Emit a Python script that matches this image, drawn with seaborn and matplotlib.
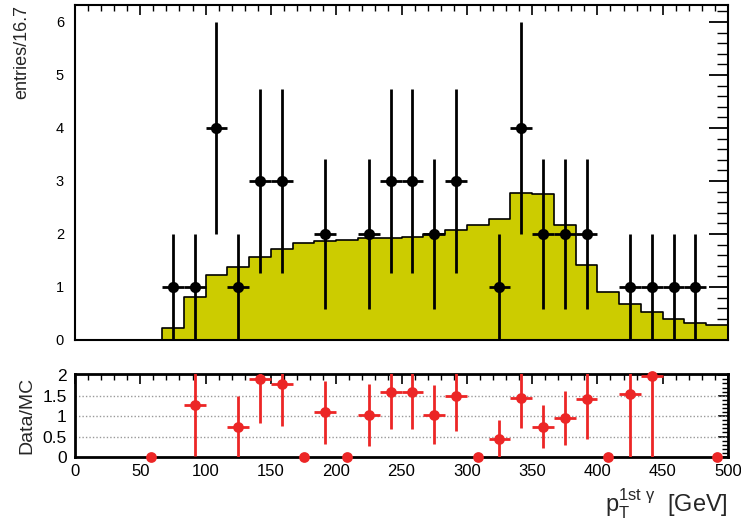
import numpy as np
import pandas as pd
import matplotlib
matplotlib.use("Agg")
import matplotlib.pyplot as plt
import seaborn as sns
from matplotlib.ticker import MultipleLocator

# ---------------- data ----------------
bin_width = 500 / 30
bin_edges = [i * bin_width for i in range(31)]
bin_centers = [(i + 0.5) * bin_width for i in range(30)]

mc_values = [0, 0, 0, 0, 0.22, 0.82, 1.23, 1.37, 1.57, 1.72,
             1.83, 1.86, 1.89, 1.92, 1.92, 1.95, 2.00, 2.07, 2.16, 2.29,
             2.78, 2.75, 2.16, 1.42, 0.91, 0.67, 0.52, 0.40, 0.32, 0.29]

data_counts = [0, 0, 0, 0, 1, 1, 4, 1, 3, 3,
               0, 2, 0, 2, 3, 3, 2, 3, 0, 1,
               4, 2, 2, 2, 0, 1, 1, 1, 1, 0]
data_err = [0, 0, 0, 0, 1, 1, 2, 1, 1.73, 1.73,
            0, 1.41, 0, 1.41, 1.73, 1.73, 1.41, 1.73, 0, 1,
            2, 1.41, 1.41, 1.41, 0, 1, 1, 1, 1, 0]

ratio_x = [58.33, 91.67, 125.0, 141.67, 158.33, 175.0, 191.67, 208.33, 225.0, 241.67,
           258.33, 275.0, 291.67, 308.33, 325.0, 341.67, 358.33, 375.0, 391.67, 408.33,
           425.0, 441.67, 491.67]
ratio_y = [0, 1.28, 0.74, 1.92, 1.79, 0, 1.09, 0, 1.03, 1.58,
           1.58, 1.03, 1.49, 0, 0.45, 1.44, 0.74, 0.95, 1.43, 0,
           1.55, 1.98, 0]
ratio_err = [0, 1.25, 0.74, 1.10, 1.02, 0, 0.77, 0, 0.75, 0.90,
             0.90, 0.72, 0.85, 0, 0.45, 0.73, 0.52, 0.66, 1.00, 0,
             1.54, 2.00, 0]

x_ticks = [0, 50, 100, 150, 200, 250, 300, 350, 400, 450, 500]

# ---------------- style ----------------
sns.set_theme(style="white")
plt.rcParams['font.family'] = ['Liberation Sans', 'DejaVu Sans']
plt.rcParams['mathtext.fontset'] = 'custom'
plt.rcParams['mathtext.rm'] = 'Liberation Sans'
plt.rcParams['mathtext.it'] = 'Liberation Sans'

fig = plt.figure(figsize=(7.41, 5.25), dpi=100)
ax1 = fig.add_axes([0.1012, 0.3524, 0.8813, 0.6381])
ax2 = fig.add_axes([0.1012, 0.1295, 0.8813, 0.1581])

mc_df = pd.DataFrame({"x": bin_centers, "w": mc_values})
sns.histplot(data=mc_df, x="x", weights="w", bins=bin_edges, element="step",
             fill=True, color="#cccc00", alpha=1.0, edgecolor="black",
             linewidth=1.2, ax=ax1)

# data points with errors
dd = pd.DataFrame({"x": bin_centers, "y": data_counts, "e": data_err})
dd = dd[dd["y"] > 0]
ax1.errorbar(dd["x"], dd["y"], yerr=dd["e"], xerr=bin_width / 2, fmt="none",
             ecolor="black", elinewidth=2.0, capsize=0, zorder=3)
sns.scatterplot(data=dd, x="x", y="y", color="black", s=65, edgecolor="black",
                linewidth=0, ax=ax1, zorder=4)

ax1.set_xlim(0, 500)
ax1.set_ylim(0, 6.32)
ax1.set_xlabel("")
ax1.set_ylabel("")
ax1.xaxis.set_major_locator(MultipleLocator(50))
ax1.xaxis.set_minor_locator(MultipleLocator(10))
ax1.yaxis.set_major_locator(MultipleLocator(1))
ax1.yaxis.set_minor_locator(MultipleLocator(0.2))
ax1.tick_params(axis="both", which="both", direction="in", top=True, right=True,
                colors="black")
ax1.tick_params(axis="y", which="major", length=14, width=1.3, labelsize=10.5, pad=8)
ax1.tick_params(axis="y", which="minor", length=8, width=1.0)
ax1.tick_params(axis="x", which="major", length=7, width=1.2)
ax1.tick_params(axis="x", which="minor", length=4, width=1.0)
ax1.tick_params(axis="x", labelbottom=False)
fig.text(0.018, 0.99, "entries/16.7", rotation=90, ha="left", va="top", fontsize=13)
for s in ax1.spines.values():
    s.set_color("black")
    s.set_linewidth(1.5)

# ratio panel
rd = pd.DataFrame({"x": ratio_x, "y": ratio_y, "e": ratio_err})
rnz = rd[rd["y"] > 0]
ax2.errorbar(rnz["x"], rnz["y"], yerr=rnz["e"], xerr=bin_width / 2, fmt="none",
             ecolor="#ec2626", elinewidth=2.0, capsize=0, zorder=3)
sns.scatterplot(data=rd, x="x", y="y", color="#ec2626", s=60, linewidth=0,
                ax=ax2, zorder=4, clip_on=False)
ax2.set_xlim(0, 500)
ax2.set_ylim(0, 2.03)
ax2.set_yticks([0, 0.5, 1, 1.5, 2])
ax2.set_yticklabels(["0", "0.5", "1", "1.5", "2"])
ax2.yaxis.set_minor_locator(MultipleLocator(0.1))
ax2.set_xticks(x_ticks)
ax2.set_xticklabels([str(t) for t in x_ticks])
ax2.xaxis.set_minor_locator(MultipleLocator(10))
for yv in [0.5, 1.0, 1.5]:
    ax2.axhline(yv, color="#999999", linestyle=(0, (1, 1.5)), linewidth=1.0, zorder=1)
ax2.tick_params(axis="both", which="both", direction="in", top=True, right=True,
                colors="black")
ax2.tick_params(which="major", length=7, width=1.2)
ax2.tick_params(which="minor", length=4, width=1.0)
ax2.tick_params(axis="x", labelsize=12, pad=5)
ax2.tick_params(axis="y", labelsize=12.5, pad=6)
ax2.set_xlabel("")
ax2.set_ylabel("Data/MC", fontsize=14, labelpad=5)
for s in ax2.spines.values():
    s.set_color("black")
    s.set_linewidth(2)
fig.text(0.982, 0.008, r"p$_{\mathrm{T}}^{\mathrm{1st\ \gamma}}$  [GeV]", ha="right", va="bottom",
         fontsize=17)

fig.savefig("out.png", dpi=100)
